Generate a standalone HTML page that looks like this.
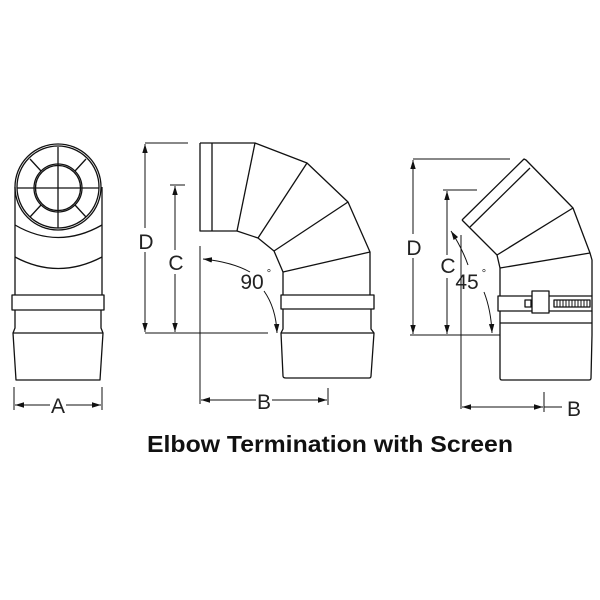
<!DOCTYPE html>
<html><head><meta charset="utf-8"><style>
html,body{margin:0;padding:0;background:#fff;}
svg{display:block;}
.l{fill:none;stroke:#111;stroke-width:1.3;stroke-linejoin:round;}
.t{stroke-width:1;}
.lt{font-family:"Liberation Sans",sans-serif;font-size:21px;fill:#222;text-anchor:middle;font-weight:300;}
</style></head><body>
<svg width="600" height="600" viewBox="0 0 600 600" xmlns="http://www.w3.org/2000/svg">
<defs>
<marker id="a" viewBox="0 0 10 10" refX="10" refY="5" markerWidth="9" markerHeight="9" orient="auto-start-reverse" markerUnits="userSpaceOnUse"><path d="M0,2 L10,5 L0,8 z" fill="#111"/></marker>
</defs>
<!-- LEFT FIGURE -->
<g class="l">
<circle cx="58" cy="187" r="43"/>
<circle cx="58" cy="187" r="41"/>
<circle cx="58" cy="188" r="24"/>
<circle cx="58" cy="188" r="22.5"/>
<line x1="34" y1="188" x2="82" y2="188"/>
<line x1="58" y1="164" x2="58" y2="212"/>
<line x1="17" y1="188" x2="34" y2="188"/><line x1="82" y1="188" x2="99" y2="188"/>
<line x1="58" y1="147" x2="58" y2="164"/><line x1="58" y1="212" x2="58" y2="228"/>
<line x1="30" y1="159" x2="41" y2="171"/><line x1="86" y1="159" x2="75" y2="171"/>
<line x1="30" y1="217" x2="41" y2="205"/><line x1="86" y1="217" x2="75" y2="205"/>
<path d="M15,187 L15,295 M102,187 L102,295"/>
<path d="M15,225 Q58,250 102,225"/>
<path d="M15,257 Q58,280 102,257"/>
<rect x="12" y="295" width="92" height="15"/>
<path d="M15,310 L15,328 L13,333 L16,380 L100,380 L103,333 L101,328 L101,310"/>
<line x1="13" y1="333" x2="103" y2="333"/>
<path class="t" d="M14,387 L14,410 M102,387 L102,410"/>
<line class="t" x1="15" y1="405" x2="50" y2="405" marker-start="url(#a)"/>
<line class="t" x1="66" y1="405" x2="101" y2="405" marker-end="url(#a)"/>
</g>
<text class="lt" x="58" y="413">A</text>
<!-- MIDDLE FIGURE -->
<g class="l">
<path class="t" d="M145,143 L188,143 M170,185 L185,185 M145,333 L268,333"/>
<line class="t" x1="145" y1="144" x2="145" y2="228" marker-start="url(#a)"/>
<line class="t" x1="145" y1="252" x2="145" y2="332" marker-end="url(#a)"/>
<line class="t" x1="175" y1="186" x2="175" y2="250" marker-start="url(#a)"/>
<line class="t" x1="175" y1="274" x2="175" y2="332" marker-end="url(#a)"/>
<path d="M200,143 L255,143 L307,163 L348,202 L370,252 L370,295 M200,143 L200,231 L237,231 L258,238 L274,251 L283,272 L283,295"/>
<line x1="212" y1="143" x2="212" y2="231"/>
<line x1="237" y1="231" x2="255" y2="143"/>
<line x1="258" y1="238" x2="307" y2="163"/>
<line x1="274" y1="251" x2="348" y2="202"/>
<line x1="283" y1="272" x2="370" y2="252"/>
<rect x="281" y="295" width="93" height="14"/>
<path d="M283,309 L283,329 L281,333 L283,376 Q283,378 286,378 L369,378 Q371,378 371,376 L374,333 L371,329 L371,309"/>
<line x1="281" y1="333" x2="374" y2="333"/>
<path class="t" d="M200,246 L200,404 M328,388 L328,405"/>
<line class="t" x1="201" y1="400" x2="256" y2="400" marker-start="url(#a)"/>
<line class="t" x1="272" y1="400" x2="327" y2="400" marker-end="url(#a)"/>
<path class="t" d="M203,259 Q232,262 250,272" marker-start="url(#a)"/>
<path class="t" d="M264,291 Q276,308 277,333" marker-end="url(#a)"/>
</g>
<text class="lt" x="146" y="249">D</text>
<text class="lt" x="176" y="270">C</text>
<text class="lt" x="264" y="409">B</text>
<text class="lt" x="252" y="289">90</text><text class="lt" x="269" y="277" style="font-size:11px">°</text>
<!-- RIGHT FIGURE -->
<g class="l">
<path class="t" d="M413,159 L510,159 M443,190 L477,190 M410,335 L500,335"/>
<line class="t" x1="413" y1="160" x2="413" y2="234" marker-start="url(#a)"/>
<line class="t" x1="413" y1="258" x2="413" y2="334" marker-end="url(#a)"/>
<line class="t" x1="447" y1="191" x2="447" y2="255" marker-start="url(#a)"/>
<line class="t" x1="447" y1="278" x2="447" y2="334" marker-end="url(#a)"/>
<path d="M462,220 L524,159 L526,160 L573,208 L590,253 L592,260 L592,296 M462,220 L470,228 L497,255 L500,268 L500,296"/>
<line x1="470" y1="227" x2="530" y2="168"/>
<line x1="497" y1="255" x2="573" y2="208"/>
<line x1="500" y1="268" x2="590" y2="253"/>
<rect x="498" y="296" width="94" height="15"/>
<path d="M500,311 L500,335 L500,378 Q500,380 502,380 L589,380 Q591,380 591,378 L592,335 L592,311"/>
<line x1="500" y1="323" x2="592" y2="323"/>
<rect x="532" y="291" width="17" height="22" fill="#fff"/>
<rect x="525" y="300" width="6" height="7" fill="#fff"/>
<rect x="554" y="300" width="36" height="7" fill="#fff"/>
<path class="t" d="M557,300v7M560,300v7M563,300v7M566,300v7M569,300v7M572,300v7M575,300v7M578,300v7M581,300v7M584,300v7M587,300v7"/>
<path class="t" d="M461,235 L461,409 M544,392 L544,412 M544,407 L562,407"/>
<line class="t" x1="462" y1="407" x2="543" y2="407" marker-start="url(#a)" marker-end="url(#a)"/>
<path class="t" d="M451,231 Q462,248 468,265" marker-start="url(#a)"/>
<path class="t" d="M484,292 Q491,310 492,333" marker-end="url(#a)"/>
</g>
<text class="lt" x="414" y="255">D</text>
<text class="lt" x="448" y="273">C</text>
<text class="lt" x="574" y="416">B</text>
<text class="lt" x="467" y="289">45</text><text class="lt" x="484" y="277" style="font-size:11px">°</text>
<text x="147" y="452" textLength="366" lengthAdjust="spacingAndGlyphs" style="font-family:'Liberation Sans',sans-serif;font-weight:bold;font-size:23px;fill:#111">Elbow Termination with Screen</text>
</svg>
</body></html>
